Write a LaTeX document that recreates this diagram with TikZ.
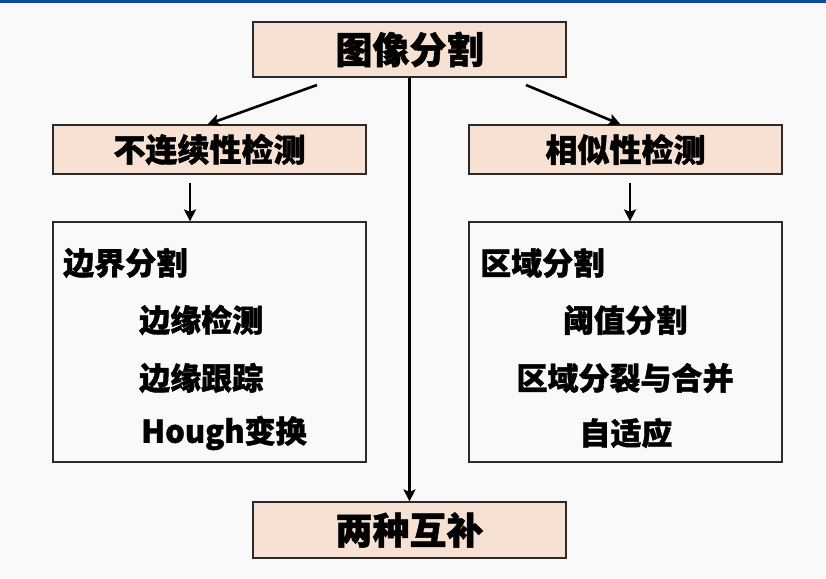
\documentclass[tikz,border=0pt]{standalone}
\usepackage{fontspec}
\newfontfamily\cjk{Noto Sans CJK SC}[BoldFeatures={FakeBold=1.3}]
\usetikzlibrary{arrows.meta,calc}
\definecolor{bgc}{HTML}{F9F9F9}
\definecolor{barblue}{RGB}{10,76,160}
\definecolor{peach}{HTML}{F7E1D3}
\definecolor{edge}{HTML}{2A2A2A}
\tikzset{
  title/.style={draw=edge, line width=1.2pt, fill=peach, minimum width=313pt,
    inner sep=0pt, font=\cjk\bfseries\fontsize{37}{40}\selectfont},
  detect/.style={draw=edge, line width=1.2pt, fill=peach, minimum width=313pt,
    minimum height=49pt, inner sep=0pt, font=\cjk\bfseries\fontsize{32}{36}\selectfont},
  panel/.style={draw=edge, line width=1.2pt, fill=bgc, minimum width=313pt,
    minimum height=240pt, inner sep=0pt},
  item/.style={inner sep=0pt, font=\cjk\bfseries\fontsize{31}{34}\selectfont},
  arr/.style={line width=2.6pt, -{Stealth[length=12pt,width=12pt,inset=2.5pt]}},
}
\begin{document}
\begin{tikzpicture}[x=1pt,y=-1pt]
  % page background and top rule
  \fill[bgc] (0,0) rectangle (826,578);
  \fill[barblue] (0,0) rectangle (826,3);
  \useasboundingbox (0,0) rectangle (826,578);

  % boxes
  \node[title, minimum height=55pt] (top) at (409.5,49.5) {图像分割};
  \node[detect] (lbox) at (209.5,149.5) {不连续性检测};
  \node[detect] (rbox) at (625.5,149.5) {相似性检测};
  \node[panel] (lcont) at (209.5,342) {};
  \node[panel] (rcont) at (625.5,342) {};
  \node[title, minimum height=56pt] (bot) at (409.5,530) {两种互补};

  % left panel: boundary based methods
  \node[item, anchor=west] (l0) at (63,263) {边界分割};
  \node[item, anchor=west] (l1) at (139,320) {边缘检测};
  \node[item, anchor=west] (l2) at (139,378) {边缘跟踪};
  \node[item, anchor=west] (l3) at (141,433) {Hough变换};

  % right panel: region based methods
  \node[item, anchor=west] (r0) at (480,263) {区域分割};
  \node[item] (r1) at (625,320) {阈值分割};
  \node[item] (r2) at (625,378) {区域分裂与合并};
  \node[item] (r3) at (626,433) {自适应};

  % connectors
  \coordinate (ls) at (317,85);
  \coordinate (rs) at (526,85);
  \draw[arr] (ls) -- ($(lbox.north)+(-2,0)$);
  \draw[arr] (rs) -- ($(rbox.north)+(-5,0)$);
  \draw[arr] (top.south) -- (bot.north);
  \coordinate (la) at ([xshift=-19.5pt,yshift=-8pt]lbox.south);
  \coordinate (ra) at ([xshift=4.5pt,yshift=-8pt]rbox.south);
  \draw[arr] (la) -- (la |- lcont.north);
  \draw[arr] (ra) -- (ra |- rcont.north);
\end{tikzpicture}
\end{document}
